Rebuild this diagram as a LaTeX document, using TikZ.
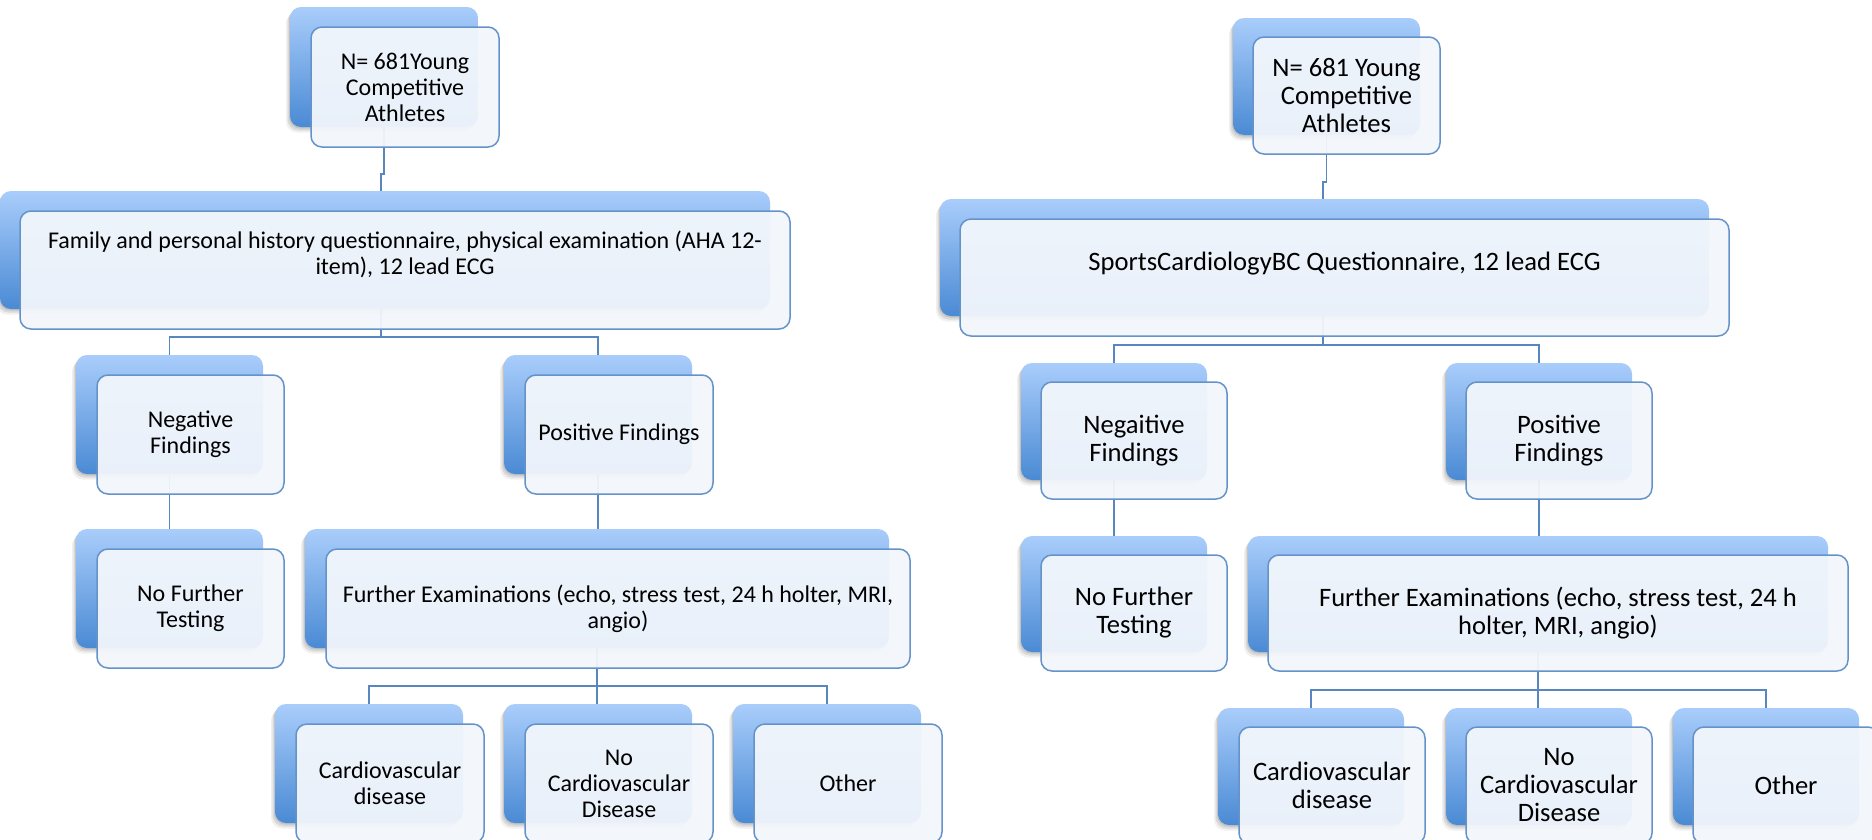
\documentclass[tikz,border=0pt]{standalone}
\usepackage{fontspec}
\setmainfont{Carlito}
\usetikzlibrary{shadows}
\definecolor{bktop}{HTML}{A9CDFB}
\definecolor{bkbot}{HTML}{4A8AD4}
\definecolor{frfill}{HTML}{F3F7FC}
\definecolor{frline}{HTML}{6593C9}
\definecolor{conncol}{HTML}{5886BF}
\pgfdeclarelayer{paper}
\pgfdeclarelayer{bg}
\pgfsetlayers{paper,bg,main}
\tikzset{
  backbox/.style={rounded corners=11pt, inner sep=0pt, top color=bktop, bottom color=bkbot, draw=none,
    general shadow={fill=black, opacity=0.10, shadow xshift=-1pt, shadow yshift=-1.5pt},
    general shadow={fill=black, opacity=0.09, shadow xshift=-2.5pt, shadow yshift=-3.5pt},
    general shadow={fill=black, opacity=0.06, shadow xshift=-4pt, shadow yshift=-5.5pt}},
  frontbox/.style={rounded corners=11pt, inner sep=0pt, fill=frfill, fill opacity=0.94, draw=frline, line width=1.5pt},
  lfont/.style={font=\fontsize{24}{26}\selectfont, align=center, text=black, inner sep=0pt},
  rfont/.style={font=\fontsize{26.6}{28}\selectfont, align=center, text=black, inner sep=0pt},
  link/.style={draw=conncol, line width=1.5pt},
}
% #1 name, #2 x1, #3 y1, #4 x2, #5 y2 (back box), #6 dx, #7 dy (front offset), #8 text style, #9 text
\newcommand\twobox[9]{%
  \node[backbox, minimum width={#4-#2}, minimum height={#5-#3}] (#1b) at ({(#2+#4)/2},{(#3+#5)/2}) {};
  \node[frontbox, minimum width={#4-#2}, minimum height={#5-#3}] (#1) at ({(#2+#4)/2+#6},{(#3+#5)/2+#7}) {};
  \node[#8] (#1t) at (#1.center) {#9};
}
\begin{document}
\begin{tikzpicture}[x=1pt, y=-1pt]
\useasboundingbox (0,0) rectangle (1872,839);
\clip (0,0) rectangle (1872,839);
\begin{pgfonlayer}{paper}
  \fill[white] (0,0) rectangle (1872,839);
\end{pgfonlayer}

% ---------- left tree ----------
\twobox{t1}{290}{7}{478}{127}{21}{20}{lfont}{N= 681Young\\Competitive\\Athletes}
\twobox{f1}{0}{191}{770}{309}{20}{20}{lfont, yshift=16pt}{Family and personal history questionnaire, physical examination (AHA 12-\\item), 12 lead ECG}
\twobox{n1}{76}{355}{263}{474}{21}{20}{lfont}{Negative\\Findings}
\twobox{p1}{504}{355}{692}{474}{21}{20}{lfont}{Positive Findings}
\twobox{nf1}{76}{529}{263}{648}{21}{20}{lfont}{No Further\\Testing}
\twobox{fe1}{305}{529}{889}{648}{21}{20}{lfont}{Further Examinations (echo, stress test, 24 h holter, MRI,\\angio)}
\twobox{c1}{275}{704}{463}{823}{21}{20}{lfont}{Cardiovascular\\disease}
\twobox{nc1}{504}{704}{692}{823}{21}{20}{lfont}{No\\Cardiovascular\\Disease}
\twobox{o1}{733}{704}{921}{823}{21}{20}{lfont}{Other}

% ---------- right tree ----------
\twobox{t2}{1233}{18}{1420}{135}{20}{19}{rfont}{N= 681 Young\\Competitive\\Athletes}
\twobox{f2}{940}{199}{1709}{316}{20}{20}{rfont, yshift=14pt}{SportsCardiologyBC Questionnaire, 12 lead ECG}
\twobox{n2}{1021}{363}{1207}{480}{20}{19}{rfont}{Negaitive\\Findings}
\twobox{p2}{1446}{363}{1632}{480}{20}{19}{rfont}{Positive\\Findings}
\twobox{nf2}{1021}{536}{1207}{652}{20}{19}{rfont}{No Further\\Testing}
\twobox{fe2}{1248}{536}{1828}{652}{20}{19}{rfont}{Further Examinations (echo, stress test, 24 h\\holter, MRI, angio)}
\twobox{c2}{1218}{708}{1404}{825}{21}{19}{rfont}{Cardiovascular\\disease}
\twobox{nc2}{1446}{708}{1632}{825}{20}{19}{rfont}{No\\Cardiovascular\\Disease}
\twobox{o2}{1673}{708}{1859}{825}{20}{19}{rfont}{Other}

% ---------- connectors ----------
\coordinate (j1) at (381,174);
\coordinate (j2) at (1323,182);
\begin{pgfonlayer}{bg}
  \draw[link] (t1b.south) |- (j1) -- (j1 |- f1b.north);
  \draw[link] (j1 |- f1b.south) -- ++(0,28) -| (n1b.north);
  \draw[link] (j1 |- f1b.south) -- ++(0,28) -| (p1b.north);
  \draw[link] (n1b.south) -- (nf1b.north);
  \draw[link] (p1b.south) -- (fe1b.north -| p1b.south);
  \draw[link] (fe1b.south) -- ++(0,38) -| (c1b.north);
  \draw[link] (fe1b.south) -- ++(0,38) -| (o1b.north);
  \draw[link] (fe1b.south) -- (nc1b.north -| fe1b.south);

  \draw[link] (t2b.south) |- (j2) -- (j2 |- f2b.north);
  \draw[link] (j2 |- f2b.south) -- ++(0,29) -| (n2b.north);
  \draw[link] (j2 |- f2b.south) -- ++(0,29) -| (p2b.north);
  \draw[link] (n2b.south) -- (nf2b.north);
  \draw[link] (p2b.south) -- (fe2b.north -| p2b.south);
  \draw[link] (fe2b.south) -- ++(0,38) -| (c2b.north);
  \draw[link] (fe2b.south) -- ++(0,38) -| (o2b.north);
  \draw[link] (fe2b.south) -- (nc2b.north -| fe2b.south);
\end{pgfonlayer}
\end{tikzpicture}
\end{document}
